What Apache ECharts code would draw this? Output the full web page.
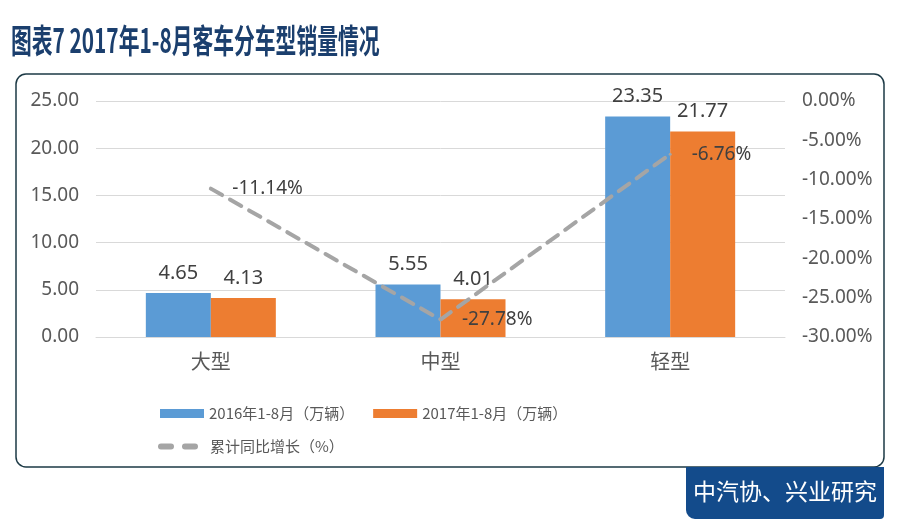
<!DOCTYPE html>
<html>
<head>
<meta charset="utf-8">
<script src="https://cdn.jsdelivr.net/npm/echarts@6/dist/echarts.min.js"></script>
<style>html,body{margin:0;padding:0;background:#fff;}#c{width:900px;height:528px;}</style>
</head>
<body>
<div id="c"></div>
<script>
var categories = ['大型', '中型', '轻型'];
var sales2016 = [4.65, 5.55, 23.35];
var sales2017 = [4.13, 4.01, 21.77];
var growth = [-11.14, -27.78, -6.76];
var seriesNames = ['2016年1-8月（万辆）', '2017年1-8月（万辆）', '累计同比增长（%）'];
var titleText = '图表7 2017年1-8月客车分车型销量情况';
var sourceText = '中汽协、兴业研究';

var FONT = '"Noto Sans", "Noto Sans CJK SC", sans-serif';
var chart = echarts.init(document.getElementById('c'), null, {renderer: 'canvas'});
var dashIcon = 'path://M3,0 L13,0 A3,3 0 0 1 13,6 L3,6 A3,3 0 0 1 3,0 Z M27,0 L37,0 A3,3 0 0 1 37,6 L27,6 A3,3 0 0 1 27,0 Z';
var option = {
  backgroundColor: '#ffffff',
  animation: false,
  textStyle: {fontFamily: FONT},
  grid: {left: 96, right: 115, top: 101, bottom: 191, containLabel: false},
  xAxis: {
    type: 'category',
    data: categories,
    axisLine: {show: true, lineStyle: {color: '#d9d9d9', width: 1}},
    axisTick: {show: false},
    axisLabel: {color: '#595959', fontSize: 20, margin: 14, fontFamily: '"Noto Sans CJK SC", sans-serif'}
  },
  yAxis: [{
    type: 'value', min: 0, max: 25, interval: 5,
    axisLine: {show: false}, axisTick: {show: false},
    splitLine: {lineStyle: {color: '#d9d9d9', width: 1}},
    axisLabel: {color: '#595959', fontSize: 19, margin: 17, formatter: function (v) { return v.toFixed(2); }}
  }, {
    type: 'value', min: -30, max: 0, interval: 5,
    axisLine: {show: false}, axisTick: {show: false},
    splitLine: {show: false},
    axisLabel: {color: '#595959', fontSize: 19, margin: 17, formatter: function (v) { return v.toFixed(2) + '%'; }}
  }],
  legend: [{
    data: [seriesNames[0], seriesNames[1]],
    left: 160, top: 406, padding: 0,
    itemWidth: 44, itemHeight: 9, itemGap: 19,
    icon: 'rect',
    textStyle: {color: '#595959', fontSize: 15, fontFamily: '"Noto Sans CJK SC", sans-serif'}
  }, {
    data: [{name: seriesNames[2], icon: dashIcon, itemStyle: {color: '#a5a5a5', opacity: 1}}],
    left: 158, top: 439, padding: 0,
    itemWidth: 40, itemHeight: 6,
    textStyle: {color: '#595959', fontSize: 15, padding: [0, 0, 0, 7], fontFamily: '"Noto Sans CJK SC", sans-serif'}
  }],
  series: [{
    name: seriesNames[0], type: 'bar', data: sales2016,
    barWidth: 65, barGap: '0%',
    itemStyle: {color: '#5b9bd5'},
    label: {show: true, position: 'top', distance: 10, color: '#404040', fontSize: 20, formatter: function (p) { return p.value.toFixed(2); }}
  }, {
    name: seriesNames[1], type: 'bar', data: sales2017,
    barWidth: 65, barGap: '0%',
    itemStyle: {color: '#ed7d31'},
    label: {show: true, position: 'top', distance: 10, color: '#404040', fontSize: 20, formatter: function (p) { return p.value.toFixed(2); }}
  }, {
    name: seriesNames[2], type: 'line', yAxisIndex: 1, data: growth,
    symbol: 'circle', symbolSize: 3, showSymbol: true, z: 5,
    lineStyle: {color: '#a5a5a5', width: 4, type: [13, 9], cap: 'round'},
    itemStyle: {color: '#a5a5a5'},
    label: {show: true, position: 'right', distance: 20, color: '#404040', fontSize: 19, formatter: function (p) { return p.value.toFixed(2) + '%'; }}
  }],
  graphic: [{
    type: 'text', left: 11, top: 24, scaleX: 0.63,
    style: {text: titleText, fill: '#1b3f6e', font: 'bold 33px "Noto Sans CJK SC", sans-serif'}
  }, {
    type: 'rect', shape: {x: 16, y: 74, width: 868, height: 393, r: 10},
    style: {fill: 'none', stroke: '#1d3a46', lineWidth: 1.5}, z: 10
  }, {
    type: 'rect', shape: {x: 686, y: 467, width: 198, height: 52, r: [0, 0, 4, 9]},
    style: {fill: '#134b8b'}, z: 10
  }, {
    type: 'text', left: 693, top: 480, z: 11,
    style: {text: sourceText, fill: '#ffffff', font: '23px "Noto Sans CJK SC", sans-serif'}
  }]
};
chart.setOption(option);
</script>
</body>
</html>
